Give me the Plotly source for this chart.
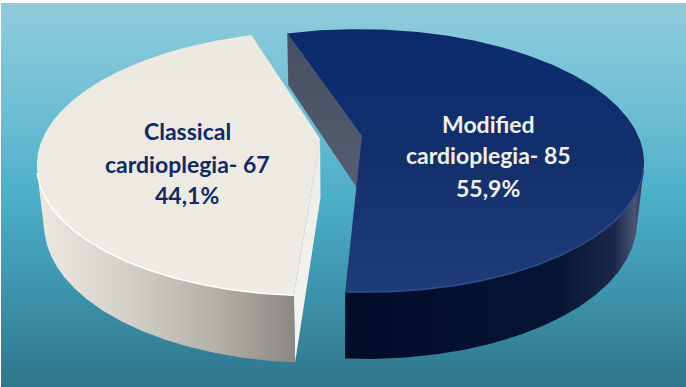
import numpy as np
import plotly.graph_objects as go

# ---- data -------------------------------------------------------------
categories = ["Modified cardioplegia", "Classical cardioplegia"]
values = [85, 67]

# ---- styling ----------------------------------------------------------
top_colors = [
    [[0, "#1f3b78"], [0.5, "#13306d"], [1, "#0b2b6d"]],
    [[0, "#eeebe4"], [1, "#ecE9e1"]],
]
wall_colors = [
    [[0, "#010c28"], [0.7, "#061434"], [0.9, "#1a2748"], [0.97, "#4a5472"], [1, "#2a3452"]],
    [[0, "#ebe9e2"], [0.35, "#d2d0c8"], [0.7, "#b2b0a8"], [1, "#8a8882"]],
]
cut_colors = [
    [[0, "#575e72"], [1, "#474e62"]],
    [[0, "#f6f4ef"], [1, "#ecebe6"]],
]
rim_colors = ["#2b4e96", "#ffffff"]
text_colors = ["#f2efe6", "#0f2a66"]
label_anchor = [(488, [124, 155, 187.5]), (187, [131, 163.5, 195])]

W, H = 686, 387

# ---- 3D pie projection -----------------------------------------------
DIST = 4.8          # camera distance in pie radii
FOCAL = 1330        # focal length in pixels
SIN_T = 0.46        # sine of camera elevation
COS_T = np.sqrt(1 - SIN_T ** 2)
CX, CY = 341, 137.5 # screen position of pie centre
THICK = 0.243       # pie thickness in radii
EXPLODE = 0.076     # slice pull-out distance
START = 107.7       # angle of first slice edge (deg, CCW from +x)


def project(x, y, z):
    depth = DIST + y * COS_T - z * SIN_T
    sx = FOCAL * x / depth
    sy = FOCAL * (y * SIN_T + z * COS_T) / depth
    return CX + sx, CY - sy


cam = np.array([0.0, -DIST * COS_T, DIST * SIN_T])

total = sum(values)
slices = []
a0 = START
for v in values:
    span = v / total * 360
    a1 = a0 - span
    mid = np.radians((a0 + a1) / 2)
    slices.append(dict(a0=a0, a1=a1, ox=EXPLODE * np.cos(mid), oy=EXPLODE * np.sin(mid)))
    a0 = a1

fig = go.Figure()

# background gradient
yy = np.linspace(0, H, 60)
fig.add_trace(go.Heatmap(
    x=[0, W], y=yy, z=[[y, y] for y in yy], zsmooth="best", showscale=False,
    colorscale=[[0, "#90ccdc"], [0.25, "#72c0d5"], [0.5, "#4eafc9"], [0.72, "#3f97b0"], [1, "#2e768b"]],
    hoverinfo="skip",
))


def poly(xs, ys, scale, kind):
    fig.add_trace(go.Scatter(
        x=list(xs) + [xs[0]], y=list(ys) + [ys[0]], mode="lines", line=dict(width=0),
        fill="toself", fillgradient=dict(type=kind, colorscale=scale),
        hoverinfo="skip", showlegend=False,
    ))


# radial cut faces and outer walls
for i, s in enumerate(slices):
    ox, oy = s["ox"], s["oy"]
    rel = cam - np.array([ox, oy, 0.0])
    for ang, sign in ((s["a0"], 1), (s["a1"], -1)):
        t = np.radians(ang)
        n = sign * np.array([-np.sin(t), np.cos(t), 0.0])
        if n @ rel > 0:
            px, py = [], []
            for (x, y, z) in ((ox, oy, 0), (ox + np.cos(t), oy + np.sin(t), 0),
                              (ox + np.cos(t), oy + np.sin(t), -THICK), (ox, oy, -THICK)):
                a, b = project(x, y, z)
                px.append(a); py.append(b)
            poly(px, py, cut_colors[i], "vertical")

for i, s in enumerate(slices):
    ox, oy = s["ox"], s["oy"]
    th = np.radians(np.linspace(s["a0"], s["a1"], 400))
    vis = -ox * np.cos(th) - np.sin(th) * (DIST * COS_T + oy) - 1 > 0
    th = th[vis]
    if len(th) < 2:
        continue
    tx, ty = project(ox + np.cos(th), oy + np.sin(th), 0)
    bx, by = project(ox + np.cos(th), oy + np.sin(th), -THICK)
    poly(np.r_[tx, bx[::-1]], np.r_[ty, by[::-1]], wall_colors[i], "horizontal")
    s["rim"] = (tx, ty)

# top faces
for i, s in enumerate(slices):
    ox, oy = s["ox"], s["oy"]
    th = np.radians(np.linspace(s["a0"], s["a1"], 400))
    ax, ay = project(ox, oy, 0)
    rx, ry = project(ox + np.cos(th), oy + np.sin(th), 0)
    poly(np.r_[ax, rx], np.r_[ay, ry], top_colors[i], "vertical")

# bevel highlight on the front rims
for i, s in enumerate(slices):
    if "rim" in s:
        tx, ty = s["rim"]
        fig.add_trace(go.Scatter(x=tx, y=ty, mode="lines",
                                 line=dict(color=rim_colors[i], width=1.6),
                                 hoverinfo="skip", showlegend=False))

# labels
for i, (name, v) in enumerate(zip(categories, values)):
    first, rest = name.split(" ", 1)
    pct = f"{v / total * 100:.1f}%".replace(".", ",")
    lines = [first, f"{rest}- {v}", pct]
    lx, lys = label_anchor[i]
    for txt, ly in zip(lines, lys):
        fig.add_annotation(x=lx, y=ly, text=f"<b>{txt}</b>", showarrow=False,
                           xanchor="center", yanchor="middle",
                           font=dict(family="Lato", size=23, color=text_colors[i]))

fig.update_xaxes(range=[1, W], visible=False, fixedrange=True)
fig.update_yaxes(range=[H, 3], visible=False, fixedrange=True)
fig.update_layout(width=W, height=H, margin=dict(l=1, r=0, t=3, b=0),
                  paper_bgcolor="#ffffff", plot_bgcolor="#4eafc9", showlegend=False)

fig.write_html("out.html", config={"displayModeBar": False})
